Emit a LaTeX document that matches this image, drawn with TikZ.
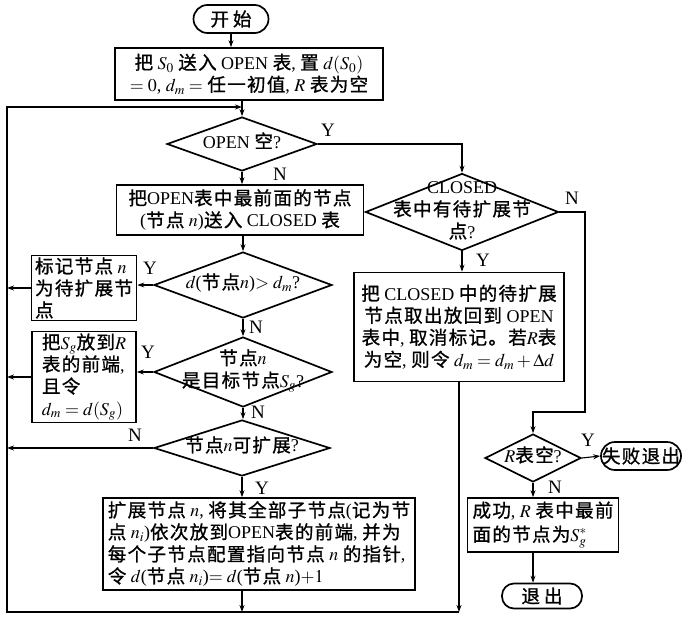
\documentclass[tikz,border=0pt]{standalone}
\usepackage{mathptmx}
\usepackage{fontspec}
\setmainfont{Liberation Serif}
\newfontfamily\cjkfont[Scale=1.03,FakeBold=1]{Noto Sans CJK SC}
\usetikzlibrary{shapes.geometric,arrows.meta}
% automatic switching between Latin and CJK fonts
\XeTeXinterchartokenstate=1
\chardef\cjkclass=7
\newcount\cjkc
\cjkc="0020 \loop \XeTeXcharclass\cjkc=0 \advance\cjkc by 1 \ifnum\cjkc<"0100 \repeat
\cjkc="4E00 \loop \XeTeXcharclass\cjkc=\cjkclass \advance\cjkc by 1 \ifnum\cjkc<"9FA6 \repeat
\cjkc="3000 \loop \XeTeXcharclass\cjkc=\cjkclass \advance\cjkc by 1 \ifnum\cjkc<"3040 \repeat
\cjkc="FF01 \loop \XeTeXcharclass\cjkc=\cjkclass \advance\cjkc by 1 \ifnum\cjkc<"FF5F \repeat
\XeTeXinterchartoks 0 \cjkclass = {\cjkfont}
\XeTeXinterchartoks 1 \cjkclass = {\cjkfont}
\XeTeXinterchartoks 2 \cjkclass = {\cjkfont}
\XeTeXinterchartoks 3 \cjkclass = {\cjkfont}
\XeTeXinterchartoks 4095 \cjkclass = {\cjkfont}
\XeTeXinterchartoks \cjkclass 0 = {\rmfamily}
\XeTeXinterchartoks \cjkclass 1 = {\rmfamily}
\XeTeXinterchartoks \cjkclass 2 = {\rmfamily}
\XeTeXinterchartoks \cjkclass 3 = {\rmfamily}
\XeTeXinterchartoks \cjkclass 4095 = {\rmfamily}
\XeTeXinterchartoks \cjkclass \cjkclass = {\kern1.3pt}
\newcommand\dtext[1]{\smash{\makebox[0pt]{\raisebox{-4pt}{\begin{tabular}{@{}c@{}}#1\end{tabular}}}}}
\begin{document}
\begin{tikzpicture}[x=1pt,y=-1pt,
  every node/.style={font=\fontsize{18}{22}\selectfont},
  box/.style={draw, line width=1.7pt, inner xsep=1pt, inner ysep=2pt, align=center},
  lbox/.style={box, align=left},
  term/.style={draw, line width=1.7pt, inner sep=0pt},
  dia/.style={draw, diamond, line width=1.7pt, inner sep=0pt},
  lab/.style={inner sep=0pt, font=\fontsize{19}{22}\selectfont},
  conn/.style={line width=1.1pt},
  arr/.style={conn, -{Stealth[length=7pt,width=5pt]}},
]
\useasboundingbox (0,0) rectangle (692,623);
% nodes
\node[term, minimum width=75pt, minimum height=28pt, rounded corners=14pt] (start) at (231,19) {开\kern4pt 始};
\node[box, minimum width=268pt, minimum height=52pt] (init) at (249,74)
  {把 $S_0$ 送入 OPEN 表, 置 $d(S_0)$\\$=0$, $d_m=$ 任一初值, $R$ 表为空};
\node[dia, minimum width=150pt, minimum height=54pt] (open) at (242,144) {\dtext{OPEN 空?}};
\node[box, minimum width=247pt, minimum height=50pt] (take) at (240,210)
  {把OPEN表中最前面的节点\\(节点 $n$)送入 CLOSED 表};
\node[dia, minimum width=178pt, minimum height=66pt] (dgt) at (243,285) {\dtext{$d$(节点$n$)$>d_m$?}};
\node[lbox, minimum width=105pt, minimum height=65pt] (mark) at (84,288)
  {标记节点 $n$\\为待扩展节\\点};
\node[dia, minimum width=178pt, minimum height=70pt] (goal) at (243,372) {\dtext{节点$n$\\是目标节点$S_g$?}};
\node[lbox, minimum width=104pt, minimum height=90pt] (put) at (84,377)
  {把$S_g$放到$R$\\表的前端,\\且令\\$d_m=d(S_g)$};
\node[dia, minimum width=176pt, minimum height=56pt] (canx) at (242,448) {\dtext{节点$n$可扩展?}};
\node[lbox, minimum width=312pt, minimum height=92pt] (expand) at (259,544)
  {扩展节点 $n$, 将其全部子节点(记为节\\点 $n_i$)依次放到OPEN表的前端, 并为\\每个子节点配置指向节点 $n$ 的指针,\\令 $d$(节点 $n_i$)$=d$(节点 $n$)$+1$};
\node[dia, minimum width=193pt, minimum height=77pt] (closed) at (462,212) {\dtext{CLOSED\\表中有待扩展节\\点?}};
\node[box, minimum width=210pt, minimum height=109pt] (reopen) at (459,327)
  {把 CLOSED 中的待扩展\\节点取出放回到 OPEN\\表中, 取消标记。若$R$表\\为空, 则令 $d_m=d_m+\Delta d$};
\node[dia, minimum width=96pt, minimum height=48pt] (rempty) at (533,458) {\dtext{$R$表空?}};
\node[term, minimum width=80pt, minimum height=28pt, rounded corners=14pt] (fail) at (641,456) {失败退出};
\node[lbox, minimum width=151pt, minimum height=54pt] (succ) at (543,525)
  {成功, $R$ 表中最前\\[2pt]面的节点为$S_g^{*}$};
\node[term, minimum width=80pt, minimum height=25pt, rounded corners=12pt] (exit) at (542,596) {退\kern4pt 出};
% labels
\node[lab] (yopen) at (328,130) {Y};
\node[lab] (nopen) at (280,174) {N};
\node[lab] (ydgt) at (150,268) {Y};
\node[lab] (ndgt) at (256,327) {N};
\node[lab] (ygoal) at (148,352) {Y};
\node[lab] (ngoal) at (258,412) {N};
\node[lab] (ncanx) at (135,435) {N};
\node[lab] (ycanx) at (262,488) {Y};
\node[lab] (nclosed) at (572,198) {N};
\node[lab] (yclosed) at (483,260) {Y};
\node[lab] (yrempty) at (588,440) {Y};
\node[lab] (nrempty) at (555,487) {N};
% coordinates for the loop
\coordinate (j1) at (242,107);
\coordinate (tl) at (7,107);
\coordinate (bl) at (7,612);
\coordinate (br) at (459,612);
\coordinate (jb) at (242,612);
\coordinate (c1) at (585,412);
% connectors
\draw[arr] (start.south) -- (start.south |- init.north);
\draw[conn] (init.south -| j1) -- (j1);
\draw[arr] (j1) -- (open.north);
\draw[arr] (br) -- (bl) -- (tl) -- (j1);
\draw[arr] (open.south) -- (open.south |- take.north);
\draw[arr] (take.south -| dgt.north) -- (dgt.north);
\draw[arr] (dgt.south) -- (goal.north);
\draw[arr] (goal.south) -- (goal.south |- canx.north);
\draw[arr] (dgt.west) -- (dgt.west -| mark.east);
\draw[arr] (mark.west) -- (mark.west -| tl);
\draw[arr] (goal.west) -- (goal.west -| put.east);
\draw[arr] (put.west) -- (put.west -| tl);
\draw[arr] (canx.west) -- (canx.west -| tl);
\draw[arr] (canx.south) -- (canx.south |- expand.north);
\draw[arr] (expand.south -| canx.south) -- (jb);
\draw[arr] (open.east) -| (closed.north);
\draw[arr] (closed.south) -- (closed.south |- reopen.north);
\draw[arr] (reopen.south) -- (br);
\draw[arr] (closed.east) -| (c1) -| (rempty.north);
\draw[arr] (rempty.east) -- (fail.west);
\draw[arr] (rempty.south) -- (rempty.south |- succ.north);
\draw[arr] (succ.south -| rempty.south) -- (rempty.south |- exit.north);
\end{tikzpicture}
\end{document}
